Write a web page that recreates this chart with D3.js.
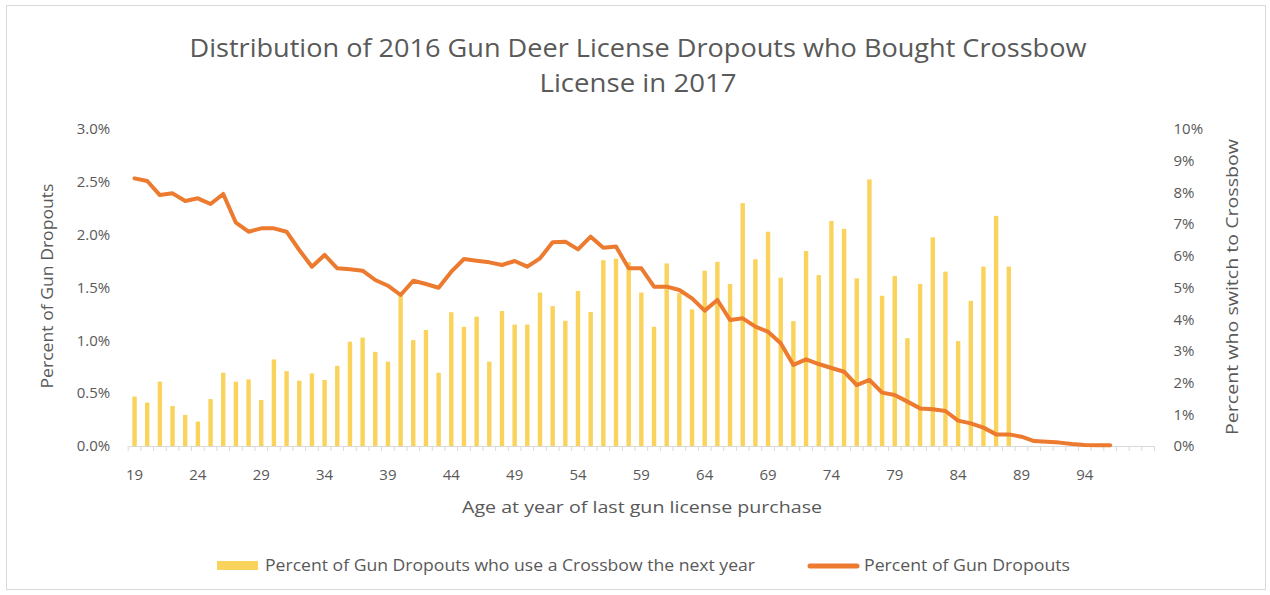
<!DOCTYPE html>
<html>
<head>
<meta charset="utf-8">
<script src="https://cdn.jsdelivr.net/npm/d3@7"></script>
<style>
  html, body { margin: 0; padding: 0; background: #fff; }
  svg { display: block; }
  text { font-family: "Open Sans", "DejaVu Sans", sans-serif; fill: #595959; }
</style>
</head>
<body>
<svg id="chart" width="1270" height="595"></svg>
<script>
// ---- data ----
const ages = d3.range(19, 100); // 19..99
const crossbowPct = [ // percent who switch to crossbow (right axis), ages 19..88
  1.56, 1.37, 2.03, 1.26, 0.98, 0.77, 1.48, 2.31, 2.03, 2.10,
  1.45, 2.73, 2.36, 2.06, 2.29, 2.08, 2.53, 3.29, 3.42, 2.97,
  2.66, 4.75, 3.34, 3.66, 2.31, 4.22, 3.76, 4.08, 2.66, 4.26,
  3.83, 3.83, 4.84, 4.41, 3.95, 4.89, 4.23, 5.86, 5.91, 5.80,
  4.84, 3.76, 5.76, 4.82, 4.31, 5.53, 5.81, 5.11, 7.66, 5.89,
  6.76, 5.31, 3.94, 6.15, 5.39, 7.10, 6.85, 5.29, 8.41, 4.74,
  5.36, 3.40, 5.11, 6.58, 5.50, 3.31, 4.58, 5.66, 7.26, 5.66
];
const dropoutPct = [ // percent of gun dropouts (left axis), ages 19..96
  2.533, 2.508, 2.375, 2.391, 2.318, 2.344, 2.290, 2.385, 2.113, 2.028,
  2.060, 2.060, 2.028, 1.855, 1.697, 1.808, 1.682, 1.672, 1.659, 1.571,
  1.517, 1.429, 1.564, 1.533, 1.498, 1.650, 1.770, 1.754, 1.738, 1.713,
  1.751, 1.697, 1.776, 1.928, 1.934, 1.861, 1.981, 1.877, 1.887, 1.682,
  1.682, 1.508, 1.508, 1.476, 1.397, 1.281, 1.382, 1.192, 1.208, 1.129,
  1.082, 0.972, 0.767, 0.820, 0.776, 0.738, 0.703, 0.577, 0.625, 0.505,
  0.483, 0.420, 0.356, 0.347, 0.331, 0.240, 0.214, 0.174, 0.110, 0.110,
  0.088, 0.047, 0.041, 0.032, 0.019, 0.010, 0.006, 0.006
];
const leftTicks = [0, 0.5, 1.0, 1.5, 2.0, 2.5, 3.0];
const rightTicks = d3.range(0, 11);
const xLabelAges = [19, 24, 29, 34, 39, 44, 49, 54, 59, 64, 69, 74, 79, 84, 89, 94];

const titleLines = ["Distribution of 2016 Gun Deer License Dropouts who Bought Crossbow", "License in 2017"];
const leftTitle = "Percent of Gun Dropouts";
const rightTitle = "Percent who switch to Crossbow";
const xTitle = "Age at year of last gun license purchase";
const legendBar = "Percent of Gun Dropouts who use a Crossbow the next year";
const legendLine = "Percent of Gun Dropouts";

// ---- layout ----
const svg = d3.select("#chart");
const plot = { left: 128.2, right: 1154.5, top: 129, bottom: 446 };
const barColor = "#F9D35B";
const lineColor = "#EC7A2F";

// frame
svg.append("rect").attr("x", 6.5).attr("y", 5.5).attr("width", 1259).attr("height", 584)
  .attr("fill", "#fff").attr("stroke", "#D9D9D9").attr("stroke-width", 1);

const x = d3.scaleBand().domain(ages).range([plot.left, plot.right]).padding(0);
const yL = d3.scaleLinear().domain([0, 3]).range([plot.bottom, plot.top]);
const yR = d3.scaleLinear().domain([0, 10]).range([plot.bottom, plot.top]);

// title
svg.append("text").attr("x", 638).attr("y", 57).attr("text-anchor", "middle")
  .attr("font-size", 25).attr("textLength", 897).attr("lengthAdjust", "spacingAndGlyphs")
  .text(titleLines[0]);
svg.append("text").attr("x", 638).attr("y", 92).attr("text-anchor", "middle")
  .attr("font-size", 25).attr("textLength", 197).attr("lengthAdjust", "spacingAndGlyphs")
  .text(titleLines[1]);

// bars
const barW = 4.4;
const barData = crossbowPct.map((v, i) => ({ age: ages[i], v }));
svg.append("g").selectAll("rect").data(barData).join("rect")
  .attr("x", d => x(d.age) + x.bandwidth() / 2 - barW / 2)
  .attr("width", barW)
  .attr("y", d => yR(d.v))
  .attr("height", d => yR(0) - yR(d.v))
  .attr("fill", barColor);

// x axis line & ticks
const xAxis = d3.axisBottom(x).tickValues([]).tickSize(0);
const gx = svg.append("g").attr("transform", `translate(0,${plot.bottom})`).call(xAxis);
gx.select(".domain").attr("stroke", "#D9D9D9").attr("stroke-width", 1.2);
const boundaries = ages.concat([100]);
gx.selectAll("line.tk").data(boundaries).join("line").attr("class", "tk")
  .attr("x1", d => d === 100 ? plot.right : x(d)).attr("x2", d => d === 100 ? plot.right : x(d))
  .attr("y1", 0).attr("y2", 5).attr("stroke", "#D9D9D9").attr("stroke-width", 1);
gx.selectAll("text.xl").data(xLabelAges).join("text").attr("class", "xl")
  .attr("x", d => x(d) + x.bandwidth() / 2).attr("y", 34)
  .attr("text-anchor", "middle").attr("font-size", 15).text(d => d);

// left axis
const gl = svg.append("g").attr("transform", `translate(${plot.left},0)`)
  .call(d3.axisLeft(yL).tickValues(leftTicks).tickSize(0).tickPadding(18).tickFormat(d => d.toFixed(1) + "%"));
gl.select(".domain").remove();
gl.selectAll("text").attr("font-size", 15).attr("fill", "#595959").attr("font-family", "Open Sans, sans-serif");

// right axis
const gr = svg.append("g").attr("transform", `translate(${plot.right},0)`)
  .call(d3.axisRight(yR).tickValues(rightTicks).tickSize(0).tickPadding(19).tickFormat(d => d + "%"));
gr.select(".domain").remove();
gr.selectAll("text").attr("font-size", 15).attr("fill", "#595959").attr("font-family", "Open Sans, sans-serif");

// line
const lineData = dropoutPct.map((v, i) => ({ age: ages[i], v }));
const line = d3.line().x(d => x(d.age) + x.bandwidth() / 2).y(d => yL(d.v));
svg.append("path").datum(lineData).attr("d", line)
  .attr("fill", "none").attr("stroke", lineColor).attr("stroke-width", 4)
  .attr("stroke-linejoin", "round").attr("stroke-linecap", "round");

// axis titles
svg.append("text").attr("transform", "translate(53,286) rotate(-90)")
  .attr("text-anchor", "middle").attr("font-size", 17)
  .attr("textLength", 205).attr("lengthAdjust", "spacingAndGlyphs").text(leftTitle);
svg.append("text").attr("transform", "translate(1238,287) rotate(-90)")
  .attr("text-anchor", "middle").attr("font-size", 17)
  .attr("textLength", 296).attr("lengthAdjust", "spacingAndGlyphs").text(rightTitle);
svg.append("text").attr("x", 642).attr("y", 513).attr("text-anchor", "middle")
  .attr("font-size", 17).attr("textLength", 360).attr("lengthAdjust", "spacingAndGlyphs").text(xTitle);

// legend
const lg = svg.append("g");
lg.append("rect").attr("x", 217).attr("y", 561).attr("width", 41).attr("height", 9).attr("fill", barColor);
lg.append("text").attr("x", 265).attr("y", 571).attr("font-size", 16)
  .attr("textLength", 490).attr("lengthAdjust", "spacingAndGlyphs").text(legendBar);
lg.append("line").attr("x1", 810).attr("x2", 857).attr("y1", 566).attr("y2", 566)
  .attr("stroke", lineColor).attr("stroke-width", 5).attr("stroke-linecap", "round");
lg.append("text").attr("x", 864).attr("y", 571).attr("font-size", 16)
  .attr("textLength", 206).attr("lengthAdjust", "spacingAndGlyphs").text(legendLine);
</script>
</body>
</html>
